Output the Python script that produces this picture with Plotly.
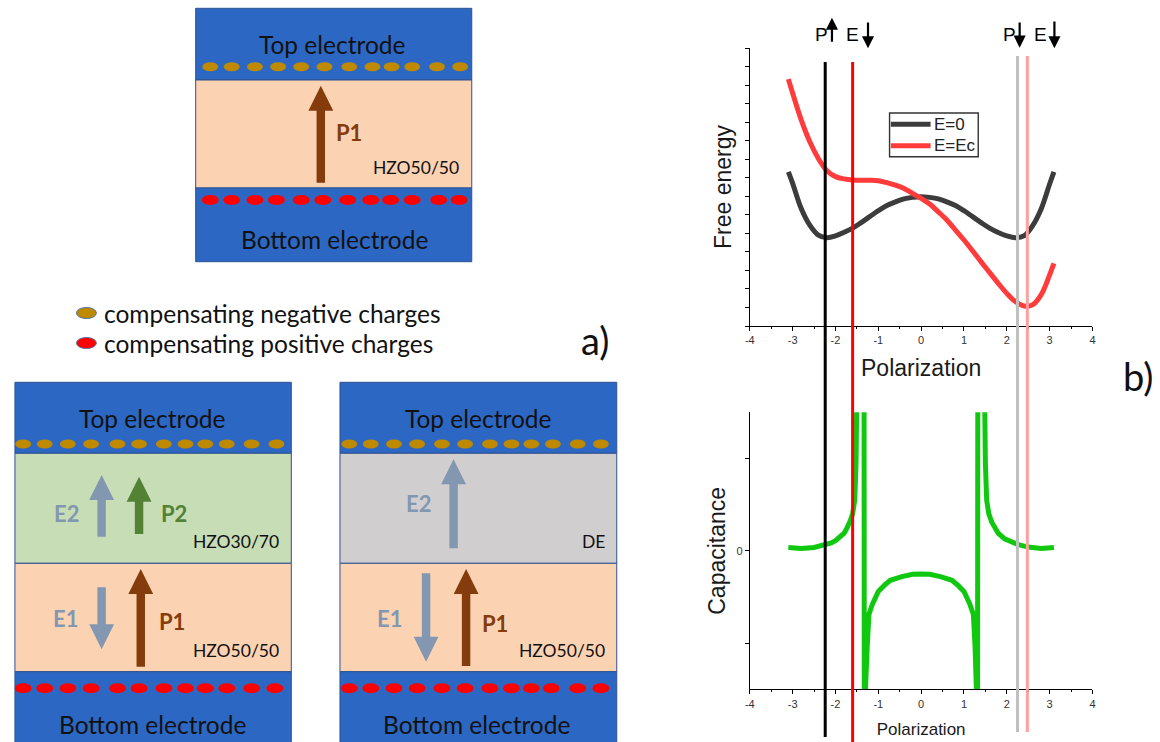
import plotly.graph_objects as go

W, H = 1160, 742

# ---------------- data ----------------
P_fe = [-3.1, -3.0, -2.8, -2.6, -2.4, -2.2, -2.0, -1.8, -1.6, -1.4, -1.2, -1.0, -0.8,
        -0.6, -0.4, -0.2, 0.0, 0.2, 0.4, 0.6, 0.8, 1.0, 1.2, 1.4, 1.6, 1.8, 2.0,
        2.2, 2.4, 2.6, 2.8, 3.0, 3.1]
F_E0 = [4.16, 3.85, 3.17, 2.72, 2.45, 2.38, 2.43, 2.53, 2.64, 2.79, 2.95, 3.11, 3.25,
        3.35, 3.43, 3.47, 3.49, 3.47, 3.43, 3.35, 3.25, 3.11, 2.95, 2.79, 2.64, 2.52, 2.43,
        2.38, 2.43, 2.70, 3.15, 3.83, 4.16]
F_Ec = [6.66, 6.28, 5.56, 4.97, 4.52, 4.19, 4.03, 3.97, 3.94, 3.93, 3.93, 3.92, 3.87,
        3.80, 3.71, 3.58, 3.44, 3.29, 3.08, 2.86, 2.59, 2.32, 2.03, 1.73, 1.44, 1.15, 0.88,
        0.66, 0.54, 0.57, 0.84, 1.38, 1.69]
series_names = ["E=0", "E=Ec"]
series_colors = ["#3C3C3C", "#FF3B3B"]

P_cap = [-3.1, -2.8, -2.5, -2.25, -2.1, -2.0, -1.9, -1.8, -1.75, -1.7, -1.65, -1.6, -1.58,
         -1.55, -1.52, -1.49, -1.47,
         -1.335, -1.325, -1.30, -1.26, -1.22, -1.14, -1.0, -0.85, -0.72, -0.45, -0.2, 0.0,
         0.2, 0.45, 0.72, 0.85, 1.0, 1.14, 1.22, 1.26, 1.29, 1.315, 1.325, 1.45, 1.47, 1.50,
         1.53, 1.58, 1.65, 1.72, 1.8, 1.95, 2.1, 2.25, 2.5, 2.8, 3.1]
C_val = [0.036, 0.025, 0.036, 0.06, 0.085, 0.11, 0.15, 0.19, 0.23, 0.27, 0.33, 0.40, 0.46,
         0.55, 0.95, 2.0, 3.0,
         3.0, -3.0, -1.5, -1.05, -0.69, -0.58, -0.44, -0.37, -0.32, -0.28, -0.255, -0.25,
         -0.255, -0.28, -0.32, -0.37, -0.44, -0.58, -0.69, -1.05, -1.5, -3.0, 3.0, 3.0, 2.0, 0.95,
         0.55, 0.40, 0.31, 0.25, 0.19, 0.13, 0.095, 0.07, 0.04, 0.025, 0.036]

# marker lines: P-up state, E-down (coercive), P-down state, E-down (right)
vline_P = [-2.24, -1.60, 2.25, 2.48]
vline_color = ["#000000", "#FF0000", "#C0C0C0", "#FFA0A0"]
vline_top_px = [62, 62, 56, 56]
vline_bot_px = [737, 742, 732, 732]

x_ticks = [-4, -3, -2, -1, 0, 1, 2, 3, 4]
x_ticktext = ["-4", "-3", "-2", "-1", "0", "1", "2", "3", "4"]

# ---------------- helpers ----------------
def X(px):
    return px / W


def Y(py):
    return 1 - py / H


shapes = []
annots = []

BLUE = "#2C68C3"
EDGE = "#2F528F"
PEACH = "#FBD3B3"
GREEN_L = "#C6DDB5"
GRAY_L = "#D1CED0"
BROWN = "#843C0C"
EBLUE = "#8497B0"
PGREEN = "#548235"
GOLD = "#BF8A00"
RED = "#FF0000"
SFONT = "Lato"
PFONT = "Liberation Sans, Arial"


def rect(x0, y0, x1, y1, fill, edge=EDGE, lw=1):
    shapes.append(dict(type="rect", xref="paper", yref="paper",
                       x0=X(x0), x1=X(x1), y0=Y(y1), y1=Y(y0),
                       fillcolor=fill, line=dict(color=edge, width=lw), layer="above"))


def ell(cx, cy, w, h, fill, edge=None):
    shapes.append(dict(type="circle", xref="paper", yref="paper",
                       x0=X(cx - w / 2), x1=X(cx + w / 2), y0=Y(cy + h / 2), y1=Y(cy - h / 2),
                       fillcolor=fill,
                       line=dict(color=edge if edge else fill, width=1 if edge else 0),
                       layer="above"))


def arrow(xc, ytail, ytip, color, sw=8.5, hw=25, hl=25):
    d = 1 if ytip < ytail else -1
    yb = ytip + d * hl
    pts = [(xc - sw / 2, ytail), (xc - sw / 2, yb), (xc - hw / 2, yb), (xc, ytip),
           (xc + hw / 2, yb), (xc + sw / 2, yb), (xc + sw / 2, ytail)]
    path = "M " + " L ".join(f"{X(a):.5f},{Y(b):.5f}" for a, b in pts) + " Z"
    shapes.append(dict(type="path", xref="paper", yref="paper", path=path,
                       fillcolor=color, line=dict(width=0), layer="above"))


def text(x, y, s, size, color="#111111", bold=False, family=SFONT, xanchor="center"):
    annots.append(dict(xref="paper", yref="paper", x=X(x), y=Y(y), text=f"<b>{s}</b>" if bold else s,
                       showarrow=False, xanchor=xanchor, yanchor="middle",
                       font=dict(family=family, size=size, color=color)))


ELEC = 24.5
LBL = 22
HZO = 17.5

# ---------------- schematic a) ----------------
# top panel
rect(192, 8.3, 470, 80, BLUE)
rect(192, 80, 470, 188, PEACH)
rect(192, 188, 470, 261.7, BLUE)
for cx in [206.7, 228.3, 251.7, 275, 298.3, 321.7, 346.7, 370, 389.3, 410, 435, 458.3]:
    ell(cx, 66.7, 16, 9, GOLD)
for cx in [206.7, 228.3, 251.7, 273.3, 298.3, 320, 345, 368.3, 388.3, 410, 436.7, 457.3]:
    ell(cx, 200, 17, 10, RED)
arrow(318, 182.7, 85.7, BROWN)
text(329, 44, "Top electrode", ELEC)
text(331.7, 240, "Bottom electrode", ELEC)
text(346.7, 133, "P1", LBL, BROWN, bold=True)
text(414, 167.7, "HZO50/50", HZO)

# legend of charges
ell(82, 313, 20, 11, GOLD, edge="#4A6FA8")
ell(82, 343, 20, 11, RED, edge="#4A6FA8")
text(98, 313, "compensating negative charges", ELEC, xanchor="left")
text(98, 343, "compensating positive charges", ELEC, xanchor="left")
text(594, 340, "a)", 38)

# bottom-left panel
rect(10, 382.3, 288.3, 453.3, BLUE)
rect(10, 453.3, 288.3, 563.3, GREEN_L)
rect(10, 563.3, 288.3, 671.7, PEACH)
rect(10, 671.7, 288.3, 745, BLUE)
for cx in [18.3, 40, 63.3, 86.7, 113.3, 135, 160, 181.7, 201.7, 223.3, 248.3, 273.3]:
    ell(cx, 444, 16, 9, GOLD)
for cx in [18.3, 40, 63.3, 86.7, 113.3, 135, 160, 181.7, 201.7, 223.3, 248.3, 271.7]:
    ell(cx, 688.3, 17, 10, RED)
arrow(97.3, 536.7, 475, EBLUE)
arrow(135, 534, 476.7, PGREEN)
arrow(97.3, 587.3, 649.3, EBLUE)
arrow(136.7, 666.7, 569, BROWN)
text(148, 418.3, "Top electrode", ELEC)
text(62.3, 513.3, "E2", LBL, EBLUE, bold=True)
text(170, 513, "P2", LBL, PGREEN, bold=True)
text(232.5, 541.7, "HZO30/70", HZO)
text(60.7, 618.3, "E1", LBL, EBLUE, bold=True)
text(167.7, 621.7, "P1", LBL, BROWN, bold=True)
text(233, 650.7, "HZO50/50", HZO)
text(148.3, 724, "Bottom electrode", ELEC)

# bottom-right panel
rect(337.3, 382.3, 616, 453.3, BLUE)
rect(337.3, 453.3, 616, 563.3, GRAY_L)
rect(337.3, 563.3, 616, 671.7, PEACH)
rect(337.3, 671.7, 616, 745, BLUE)
for cx in [346.7, 368.3, 391.7, 415, 440, 463.3, 488.3, 510, 530, 551.7, 576.7, 600]:
    ell(cx, 444, 16, 9, GOLD)
for cx in [346.7, 368.3, 391.7, 415, 440, 463.3, 488.3, 510, 530, 550, 576.7, 600]:
    ell(cx, 688.3, 17, 10, RED)
arrow(451.7, 548.3, 459.3, EBLUE)
arrow(424, 573.3, 661.7, EBLUE)
arrow(464.3, 666, 569, BROWN)
text(475.8, 418, "Top electrode", ELEC)
text(416.7, 503.3, "E2", LBL, EBLUE, bold=True)
text(592.7, 541.7, "DE", HZO)
text(386.7, 618.3, "E1", LBL, EBLUE, bold=True)
text(493.3, 623.3, "P1", LBL, BROWN, bold=True)
text(560.8, 650.7, "HZO50/50", HZO)
text(475, 724, "Bottom electrode", ELEC)

# ---------------- plots b) ----------------
fig = go.Figure()
for ys, nm, col in zip([F_E0, F_Ec], series_names, series_colors):
    fig.add_trace(go.Scatter(x=P_fe, y=ys, mode="lines", name=nm, showlegend=False,
                             line=dict(color=col, width=5, shape="spline"),
                             xaxis="x", yaxis="y"))
fig.add_trace(go.Scatter(x=P_cap, y=C_val, mode="lines", name="Capacitance", showlegend=False,
                         line=dict(color="#11C811", width=5),
                         xaxis="x2", yaxis="y2"))

for p, c, t, b in zip(vline_P, vline_color, vline_top_px, vline_bot_px):
    shapes.append(dict(type="line", xref="x", yref="paper", x0=p, x1=p,
                       y0=Y(b), y1=Y(t), line=dict(color=c, width=3), layer="above"))

# legend box for the free-energy curves
rect(890.7, 113, 980, 156.7, "#FFFFFF", edge="#333333", lw=1.4)
for i, (nm, col) in enumerate(zip(series_names, series_colors)):
    yy = 124.3 + 21.4 * i
    shapes.append(dict(type="line", xref="paper", yref="paper", x0=X(892), x1=X(932),
                       y0=Y(yy), y1=Y(yy), line=dict(color=col, width=5), layer="above"))
    text(933, yy, nm, 17, "#222222", family=PFONT, xanchor="left")

# P/E direction labels
for lx, s in [(822.5, "P"), (853.5, "E"), (1011, "P"), (1042.5, "E")]:
    text(lx, 35, s, 19, "#000000", family=PFONT)
for ax_x, tip, tail in [(832.7, 17.7, 43.3), (869, 48.3, 21), (1021.7, 47.7, 21), (1056.7, 48.3, 20)]:
    annots.append(dict(xref="paper", yref="paper", x=X(ax_x), y=Y(tip),
                       ax=0, ay=tail - tip, axref="pixel", ayref="pixel",
                       text="", showarrow=True, arrowhead=2, arrowsize=1.1,
                       arrowwidth=2.2, arrowcolor="#000000"))

text(1141, 376, "b)", 38)

axis_common = dict(showline=True, linecolor="#000000", linewidth=1, showgrid=False,
                   zeroline=False, ticks="outside", tickcolor="#000000", ticklen=4,
                   tickfont=dict(family=PFONT, size=11, color="#333333"))

fig.update_layout(
    width=W, height=H, autosize=False,
    margin=dict(l=0, r=0, t=0, b=0),
    paper_bgcolor="#FFFFFF", plot_bgcolor="rgba(0,0,0,0)",
    showlegend=False,
    xaxis=dict(domain=[X(750), X(1095)], range=[-4, 4], anchor="y",
               tickvals=x_ticks, ticktext=x_ticktext,
               minor=dict(dtick=0.5, ticks="outside", ticklen=2, tickcolor="#000000"),
               title=dict(text="Polarization", standoff=14,
                          font=dict(family=PFONT, size=23, color="#1a1a1a")),
               **axis_common),
    yaxis=dict(domain=[Y(326), Y(48)], range=[0, 7.5], anchor="x",
               dtick=0.5, showticklabels=False,
               title=dict(text="Free energy", standoff=6,
                          font=dict(family=PFONT, size=23, color="#1a1a1a")),
               **axis_common),
    xaxis2=dict(domain=[X(750), X(1095)], range=[-4, 4], anchor="y2",
                tickvals=x_ticks, ticktext=x_ticktext,
                minor=dict(dtick=0.5, ticks="outside", ticklen=2, tickcolor="#000000"),
                title=dict(text="Polarization", standoff=14,
                           font=dict(family=PFONT, size=17, color="#1a1a1a")),
                **axis_common),
    yaxis2=dict(domain=[Y(689.3), Y(412.3)], range=[-1.5, 1.5], anchor="x2",
                tickvals=[-1, 0, 1], ticktext=["", "0", ""],
                title=dict(text="Capacitance", standoff=4,
                           font=dict(family=PFONT, size=23, color="#1a1a1a")),
                **axis_common),
    shapes=shapes,
    annotations=annots,
)

fig.write_html("out.html", config={"displayModeBar": False},
               post_script="document.body.style.margin='0px';document.body.style.padding='0px';")
